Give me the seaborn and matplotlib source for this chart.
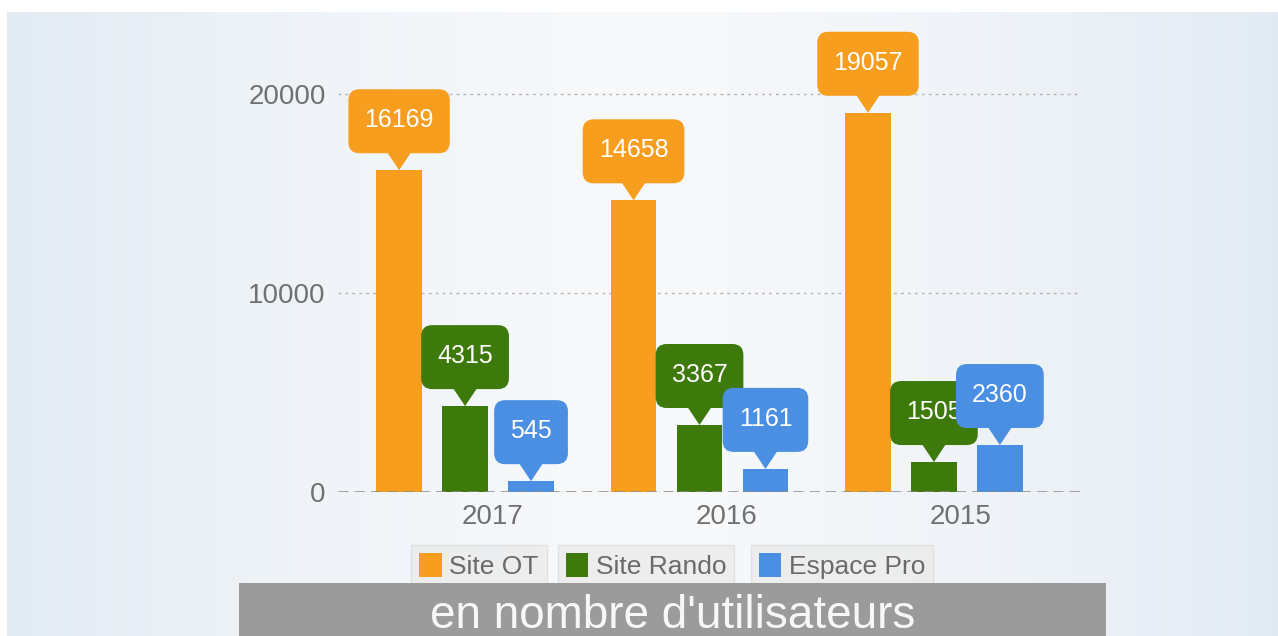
import matplotlib
matplotlib.use("Agg")
import matplotlib.pyplot as plt
import matplotlib.transforms as mtransforms
from matplotlib.patches import Polygon, Rectangle, FancyBboxPatch
import seaborn as sns
import numpy as np
import pandas as pd

# data
annees = ["2017", "2016", "2015"]
series = ["Site OT", "Site Rando", "Espace Pro"]
site_ot = [16169, 14658, 19057]
site_rando = [4315, 3367, 1505]
espace_pro = [545, 1161, 2360]
couleurs = ["#f79e1e", "#3d790b", "#4a8fe2"]

df = pd.DataFrame({
    "annee": annees * 3,
    "serie": np.repeat(series, 3),
    "utilisateurs": site_ot + site_rando + espace_pro,
})

sns.set_theme(style="white")
plt.rcParams["font.family"] = ["Liberation Sans", "DejaVu Sans"]

W, H, DPI = 1278, 636, 100
fig = plt.figure(figsize=(W / DPI, H / DPI), dpi=DPI)
fig.patch.set_facecolor("white")

# background panel with soft horizontal gradient
bg = fig.add_axes([7 / W, 0, 1 - 7 / W, (H - 12) / H], zorder=-1)
t = np.abs(np.linspace(-1, 1, 400)) ** 1.6
edge = np.array([0.885, 0.918, 0.952])
centre = np.array([0.968, 0.976, 0.984])
grad = centre[None, :] * (1 - t[:, None]) + edge[None, :] * t[:, None]
bg.imshow(grad[None, :, :], aspect="auto", extent=[0, 1, 0, 1])
bg.axis("off")

# main axes
ax_left, ax_right, ax_bottom, ax_top = 338, 1080, 492, 40
ax = fig.add_axes([ax_left / W, (H - ax_bottom) / H,
                   (ax_right - ax_left) / W, (ax_bottom - ax_top) / H], zorder=1)
ax.set_facecolor("none")

sns.barplot(data=df, x="annee", y="utilisateurs", hue="serie",
            palette=couleurs, width=0.844, gap=0.31, saturation=1,
            edgecolor="none", ax=ax)

handles, labels = ax.get_legend_handles_labels()
ax.get_legend().remove()

ax.set_xlim(-0.542, 2.623)
ax.set_ylim(0, 20000 * (ax_bottom - ax_top) / (ax_bottom - 94))
ax.set_yticks([0, 10000, 20000])
ax.set_xlabel("")
ax.set_ylabel("")
sns.despine(ax=ax, left=True, bottom=True)
ax.tick_params(axis="both", length=0, labelsize=20, colors="#707070", pad=9)
ax.yaxis.grid(True, color="#b4b4b4", linestyle=(0, (2, 3)), linewidth=1)
ax.set_axisbelow(True)
ax.axhline(0, color="#8a8a8a", linewidth=1.8, linestyle=(0, (4, 2.5)), zorder=3)

shift = mtransforms.ScaledTranslation(27 / DPI, 0, fig.dpi_scale_trans)
for lab in ax.get_xticklabels():
    lab.set_transform(lab.get_transform() + shift)

# speech-bubble labels (box 64 px tall, pointer 16 px)
fig.canvas.draw()
renderer = fig.canvas.get_renderer()
z = 4
for p in ax.patches:
    h = p.get_height()
    if not h or np.isnan(h):
        continue
    cx = p.get_x() + p.get_width() / 2
    col = p.get_facecolor()
    px, py = ax.transData.transform((cx, h))
    tr = mtransforms.Affine2D().translate(px, py)
    txt = fig.text(0, 0, f"{int(round(h))}", ha="center", va="center",
                   fontsize=18, color="white", zorder=z + 1,
                   transform=mtransforms.Affine2D().translate(px, py + 50))
    tw = txt.get_window_extent(renderer).width
    bw, bh = tw + 32, 64
    box = FancyBboxPatch((-bw / 2, 17), bw, bh,
                         boxstyle="round,pad=0,rounding_size=11",
                         fc=col, ec="none", transform=tr, zorder=z)
    tri = Polygon([(-12, 18), (12, 18), (0, 0)], closed=True, fc=col, ec="none",
                  transform=tr, zorder=z)
    fig.add_artist(box)
    fig.add_artist(tri)
    z += 2

# legend: one framed box per item
centres = [479, 646, 842]
for hd, lb, xc in zip(handles, labels, centres):
    lg = fig.legend([hd], [lb], loc="center", bbox_to_anchor=(xc / W, (H - 566) / H),
                    frameon=True, fancybox=False, fontsize=19, labelcolor="#6a6a6a",
                    handlelength=0.85, handleheight=1.0, handletextpad=0.3,
                    borderpad=0.3, borderaxespad=0)
    lg.get_frame().set_facecolor("#ebebeb")
    lg.get_frame().set_edgecolor("#dddddd")

# bottom banner
fig.add_artist(Rectangle((239 / W, 0), (1106 - 239) / W, (H - 583) / H,
                         transform=fig.transFigure, fc="#9b9b9b", ec="none", zorder=100))
fig.text(672.5 / W, (H - 628) / H, "en nombre d'utilisateurs", ha="center",
         va="baseline", fontsize=33, color="#f7f7f7", zorder=101)

fig.savefig("out.png", dpi=DPI)
